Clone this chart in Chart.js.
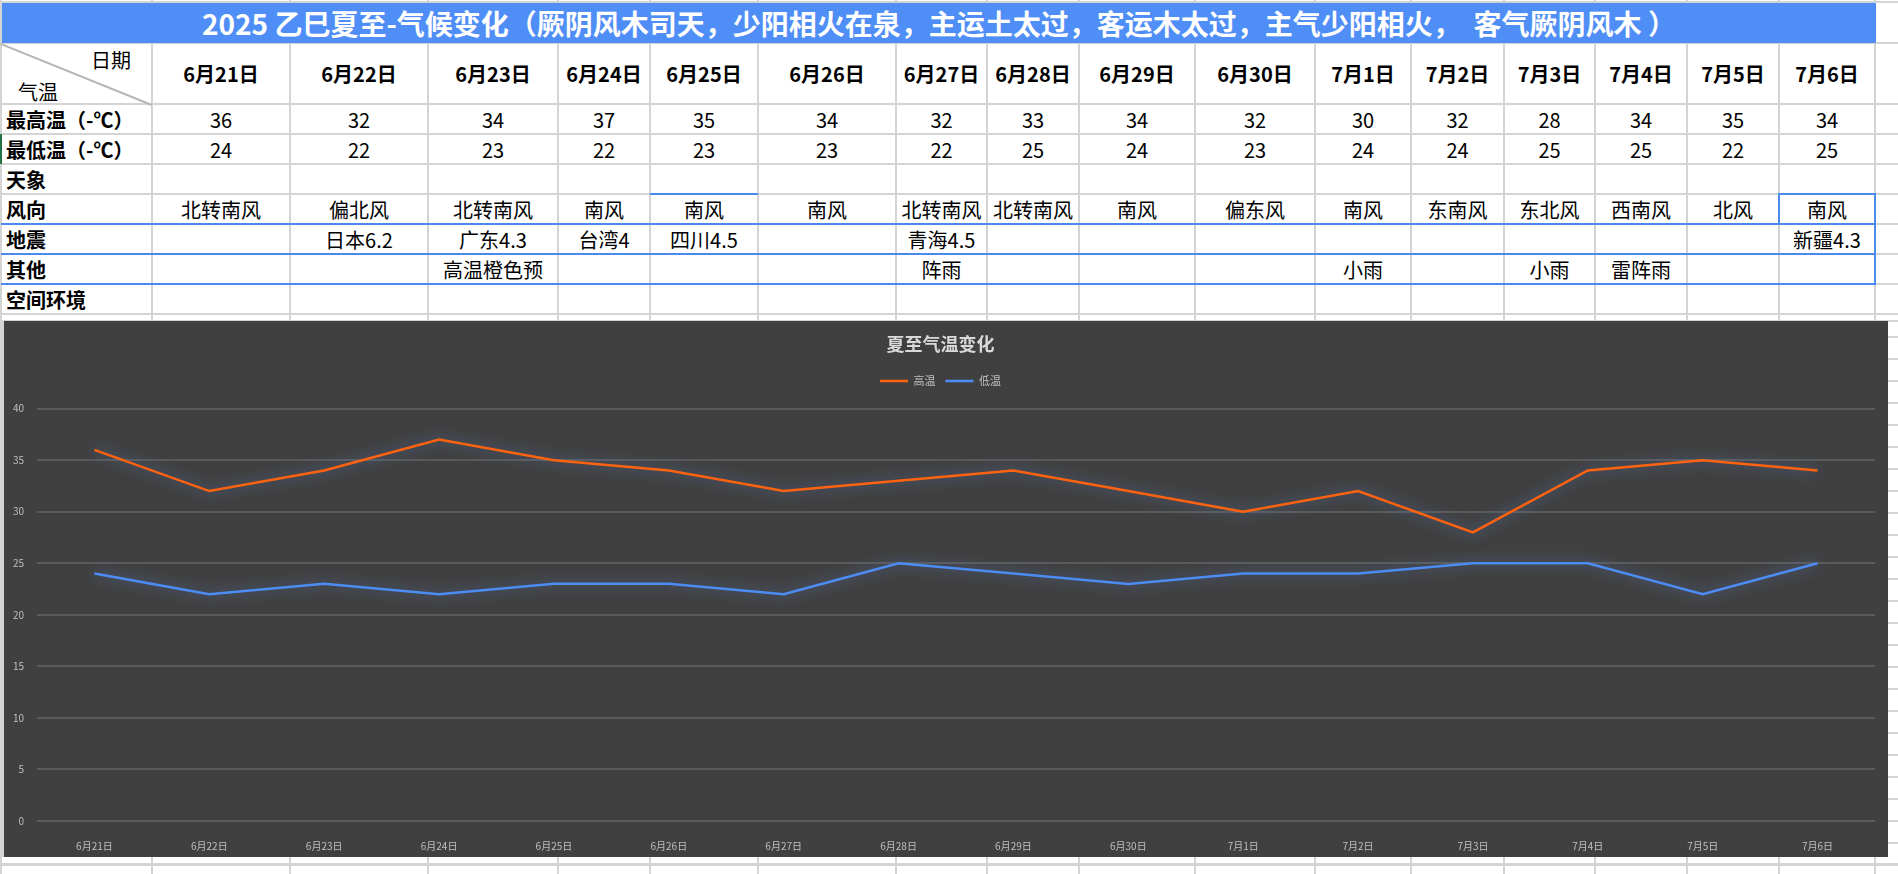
<!DOCTYPE html>
<html>
<head>
<meta charset="utf-8">
<script src="https://cdn.jsdelivr.net/npm/chart.js@4.4.1/dist/chart.umd.min.js"></script>
<style>
  html, body { margin: 0; padding: 0; background: #fff; }
  body { width: 1898px; height: 874px; position: relative; overflow: hidden;
         font-family: "Noto Sans CJK SC", "Noto Sans", sans-serif; color: #000; }
  .hl, .vl { position: absolute; background: #d4d4d4; }
  .blue { background: #4a89ee; }
  .cell { position: absolute; display: flex; align-items: center; justify-content: center;
          font-size: 20px; white-space: nowrap; }
  .bold { font-weight: bold; }
  #title { position: absolute; left: 2px; top: 3px; width: 1874px; height: 40px; background: #4f8ef6;
           color: #fff; font-weight: bold; font-size: 28px; display: flex; align-items: center;
           justify-content: center; white-space: pre; }
  #chartBox { position: absolute; left: 2px; top: 321px; width: 1886px; height: 536px;
              background: #404040; border-left: 2px solid #d4d4d4; box-sizing: border-box; }
  #chartBox canvas { position: absolute; left: 2px; top: 2px; }
</style>
</head>
<body>
<div id="sheet"></div>
<div id="title">2025 乙巳夏至-气候变化（厥阴风木司天，少阳相火在泉，主运土太过，客运木太过，主气少阳相火，  客气厥阴风木 ）</div>
<div id="chartBox"><canvas id="tempChart" width="1884" height="533"></canvas></div>

<script>
// ---- 数据 ----
const dates = ['6月21日','6月22日','6月23日','6月24日','6月25日','6月26日','6月27日','6月28日',
               '6月29日','6月30日','7月1日','7月2日','7月3日','7月4日','7月5日','7月6日'];
const highTemps = [36, 32, 34, 37, 35, 34, 32, 33, 34, 32, 30, 32, 28, 34, 35, 34];
const lowTemps  = [24, 22, 23, 22, 23, 23, 22, 25, 24, 23, 24, 24, 25, 25, 22, 25];
const windDirs  = ['北转南风','偏北风','北转南风','南风','南风','南风','北转南风','北转南风',
                   '南风','偏东风','南风','东南风','东北风','西南风','北风','南风'];
const quakes    = ['','日本6.2','广东4.3','台湾4','四川4.5','','青海4.5','','','','','','','','','新疆4.3'];
const others    = ['','','高温橙色预','','','','阵雨','','','','小雨','','小雨','雷阵雨','',''];
const rowLabels = ['最高温（-℃）','最低温（-℃）','天象','风向','地震','其他','空间环境'];
const yTicks    = [0, 5, 10, 15, 20, 25, 30, 35, 40];
const seriesNames = ['高温', '低温'];

// ---- 表格布局 ----
const colX = [1, 152, 290, 428, 558, 650, 758, 896, 987, 1079, 1195, 1315, 1411, 1504, 1595, 1687, 1779, 1875];
const rowY = [43, 104, 134, 164, 194, 224, 254, 284, 314];
const sheet = document.getElementById('sheet');

function addDiv(cls, l, t, w, h, txt) {
  const d = document.createElement('div');
  d.className = cls;
  d.style.left = l + 'px'; d.style.top = t + 'px';
  d.style.width = w + 'px'; d.style.height = h + 'px';
  if (txt !== undefined) d.textContent = txt;
  sheet.appendChild(d);
  return d;
}

// 网格线
colX.forEach(x => addDiv('vl', x - 1, 0, 2, 874));
const extraRows = [];
for (let y = 337; y < 874; y += 22) extraRows.push(y);
[2, ...rowY, 321, ...extraRows, 864].forEach(y => addDiv('hl', 0, y - 1, 1898, 2));

// 表头对角线
const diag = addDiv('hl', 0, 0, 0, 0);
const dx = colX[1] - colX[0], dy = rowY[1] - rowY[0];
diag.style.left = colX[0] + 'px'; diag.style.top = rowY[0] + 'px';
diag.style.width = Math.hypot(dx, dy) + 'px'; diag.style.height = '1.5px';
diag.style.background = '#b5b5b5';
diag.style.transformOrigin = '0 0';
diag.style.transform = 'rotate(' + Math.atan2(dy, dx) + 'rad)';
addDiv('cell', 90, 48, 42, 22, '日期');
addDiv('cell', 17, 80, 42, 22, '气温');

// 行标题
rowLabels.forEach((lab, i) => {
  const c = addDiv('cell bold', 6, rowY[i + 1], 146, 30, lab);
  c.style.justifyContent = 'flex-start';
});

// 数据单元格
const rows = [highTemps, lowTemps, null, windDirs, quakes, others, null];
dates.forEach((d, j) => {
  const l = colX[j + 1], w = colX[j + 2] - colX[j + 1];
  addDiv('cell bold', l, rowY[0], w, rowY[1] - rowY[0], d);
  rows.forEach((r, i) => {
    if (r && r[j] !== '') addDiv('cell', l, rowY[i + 1], w, 30, r[j]);
  });
});

// 蓝色边框
const xL = colX[0], xR = colX[17];
[224, 254, 284].forEach(y => addDiv('hl blue', xL, y - 1, xR - xL + 1, 2));
addDiv('hl blue', colX[5], 193, colX[6] - colX[5], 2);
addDiv('hl blue', colX[16], 193, colX[17] - colX[16] + 1, 2);
addDiv('vl blue', colX[16] - 1, 193, 2, 31);
addDiv('vl blue', colX[17] - 1, 193, 2, 92);
addDiv('vl', 0, 134, 2, 30).style.background = '#217346';

// ---- 图表 ----
Chart.defaults.font.family = '"Noto Sans CJK SC", "Noto Sans", sans-serif';

const glowPlugin = {
  id: 'glow',
  beforeDatasetDraw(chart) {
    const c = chart.ctx;
    c.save();
    c.shadowColor = 'rgba(100,140,230,0.7)';
    c.shadowBlur = 14;
  },
  afterDatasetDraw(chart) { chart.ctx.restore(); }
};

const legendGap = {
  id: 'legendGap',
  beforeInit(chart) {
    const fit = chart.legend.fit;
    chart.legend.fit = function () { fit.bind(chart.legend)(); this.height += 12; };
  }
};

new Chart(document.getElementById('tempChart'), {
  type: 'line',
  data: {
    labels: dates,
    datasets: [
      { label: seriesNames[0], data: highTemps, borderColor: '#ff6210', backgroundColor: '#ff6210',
        borderWidth: 2.5, pointRadius: 0, tension: 0 },
      { label: seriesNames[1], data: lowTemps, borderColor: '#4d8cf5', backgroundColor: '#4d8cf5',
        borderWidth: 2.5, pointRadius: 0, tension: 0 }
    ]
  },
  plugins: [glowPlugin, legendGap],
  options: {
    responsive: false,
    animation: false,
    layout: { padding: { left: 0, right: 15, top: 0, bottom: 0 } },
    plugins: {
      title: { display: true, text: '夏至气温变化', color: '#d9d9d9',
               font: { size: 18, weight: 'bold' }, padding: { top: 10, bottom: 11 } },
      legend: { position: 'top',
                labels: { color: '#bfbfbf', font: { size: 11 }, usePointStyle: true, pointStyle: 'line',
                          pointStyleWidth: 28, padding: 10 } },
      tooltip: { enabled: false }
    },
    scales: {
      x: {
        offset: true,
        grid: { display: false },
        border: { display: false },
        ticks: { color: '#bfbfbf', font: { size: 10 }, padding: 11, maxRotation: 0, autoSkip: false },
        afterFit(s) { s.height = 35; }
      },
      y: {
        min: yTicks[0], max: yTicks[yTicks.length - 1],
        afterBuildTicks(s) { s.ticks = yTicks.map(v => ({ value: v })); },
        grid: { color: '#5a5a5a', lineWidth: 2, drawTicks: false },
        border: { display: false },
        ticks: { color: '#bfbfbf', font: { size: 10 }, padding: 13 },
        afterFit(s) { s.width = 31; }
      }
    }
  }
});
</script>
</body>
</html>
